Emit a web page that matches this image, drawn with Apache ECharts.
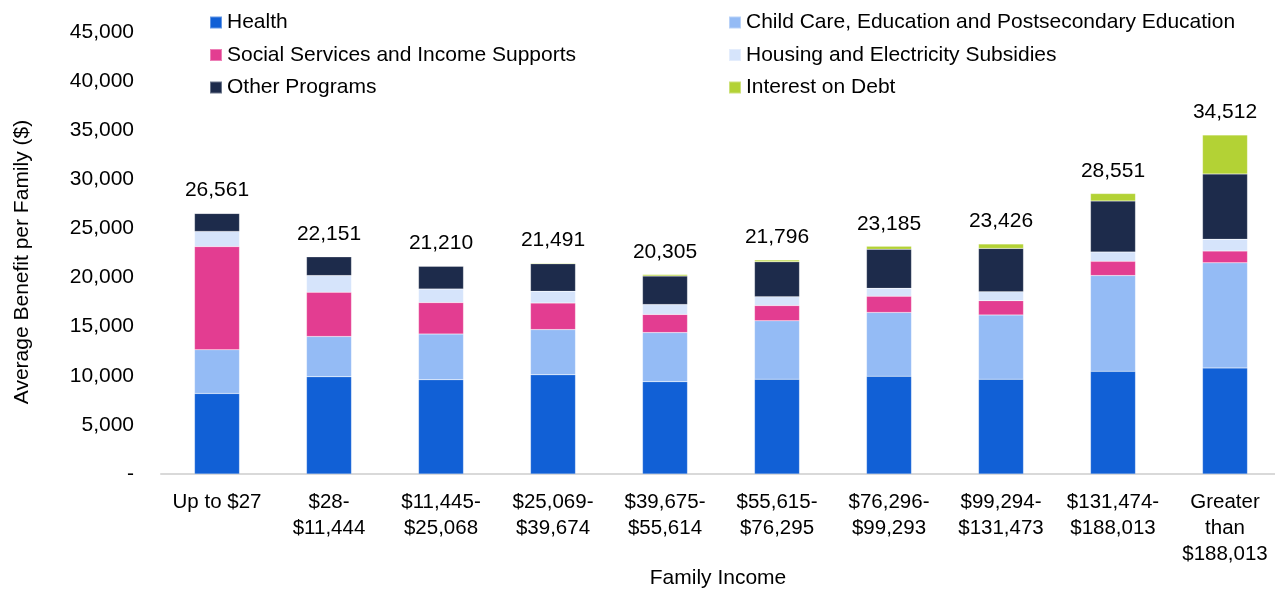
<!DOCTYPE html>
<html><head><meta charset="utf-8">
<script src="https://cdn.jsdelivr.net/npm/echarts@6/dist/echarts.min.js"></script>
<style>html,body{margin:0;padding:0;background:#fff}#c{width:1275px;height:590px}</style>
</head><body><div id="c"></div>
<script>
const categories = ["Up to $27","$28-\n$11,444","$11,445-\n$25,068","$25,069-\n$39,674","$39,675-\n$55,614","$55,615-\n$76,295","$76,296-\n$99,293","$99,294-\n$131,473","$131,474-\n$188,013","Greater\nthan\n$188,013"];
const health = [8200,9900,9600,10100,9400,9650,9950,9650,10450,10800];
const childCare = [4450,4100,4650,4600,5000,5950,6500,6550,9750,10700];
const social = [10500,4500,3200,2700,1850,1550,1650,1450,1450,1200];
const housing = [1550,1700,1380,1200,1000,900,800,900,950,1200];
const other = [1830,1910,2320,2800,2900,3550,3980,4420,5200,6650];
const interest = [31,41,60,91,155,196,305,456,751,3962];
const totals = [26561,22151,21210,21491,20305,21796,23185,23426,28551,34512];
const yTicks = [0,5000,10000,15000,20000,25000,30000,35000,40000,45000];

const names = ["Health","Child Care, Education and Postsecondary Education","Social Services and Income Supports","Housing and Electricity Subsidies","Other Programs","Interest on Debt"];
const colors = ["#1160D6","#94BBF5","#E33D91","#D6E4FB","#1D2B4B","#B3D235"];
const dataSets = [health, childCare, social, housing, other, interest];
const fmt = v => v === 0 ? "-" : v.toLocaleString("en-US");
const font = "Liberation Sans, Arial, sans-serif";

const series = dataSets.map((d, i) => ({
  name: names[i], type: "bar", stack: "a", barWidth: 45, data: d,
  itemStyle: {color: colors[i], borderColor: "rgba(255,255,255,0.35)", borderWidth: 0.5},
  label: i === 5 ? {show: true, position: "top", distance: 12, color: "#000", fontSize: 21, fontFamily: font,
    formatter: p => fmt(totals[p.dataIndex])} : {show: false}
}));

const legendCommon = {orient: "vertical", itemWidth: 12, itemHeight: 12, itemGap: 11.5, icon: "rect",
  textStyle: {fontSize: 21, color: "#000", fontFamily: font}, selectedMode: false};

const chart = echarts.init(document.getElementById("c"), null, {renderer: "canvas"});
chart.setOption({
  animation: false,
  backgroundColor: "#fff",
  legend: [
    Object.assign({left: 204, top: 7, data: [names[0], names[2], names[4]]}, legendCommon),
    Object.assign({left: 723, top: 7, data: [names[1], names[3], names[5]]}, legendCommon)
  ],
  grid: {left: 161, top: 32, width: 1120, height: 442, containLabel: false, outerBoundsMode: "none"},
  xAxis: {type: "category", data: categories,
    axisLine: {lineStyle: {color: "#D9D9D9", width: 2}}, axisTick: {show: false},
    axisLabel: {color: "#000", fontSize: 20.5, fontFamily: font, lineHeight: 26, margin: 15, interval: 0}},
  yAxis: {type: "value", min: yTicks[0], max: yTicks[yTicks.length-1], interval: 5000,
    splitLine: {show: false}, axisLine: {show: false}, axisTick: {show: false},
    axisLabel: {color: "#000", fontSize: 21, fontFamily: font, margin: 27, formatter: v => fmt(v)}},
  graphic: [
    {type: "text", x: 22, y: 262, rotation: Math.PI / 2,
      style: {text: "Average Benefit per Family ($)", fill: "#000", fontSize: 21, fontFamily: font,
        align: "center", verticalAlign: "middle"}},
    {type: "text", x: 718, y: 578,
      style: {text: "Family Income", fill: "#000", fontSize: 21, fontFamily: font,
        align: "center", verticalAlign: "middle"}}
  ],
  series: series
});
</script></body></html>
